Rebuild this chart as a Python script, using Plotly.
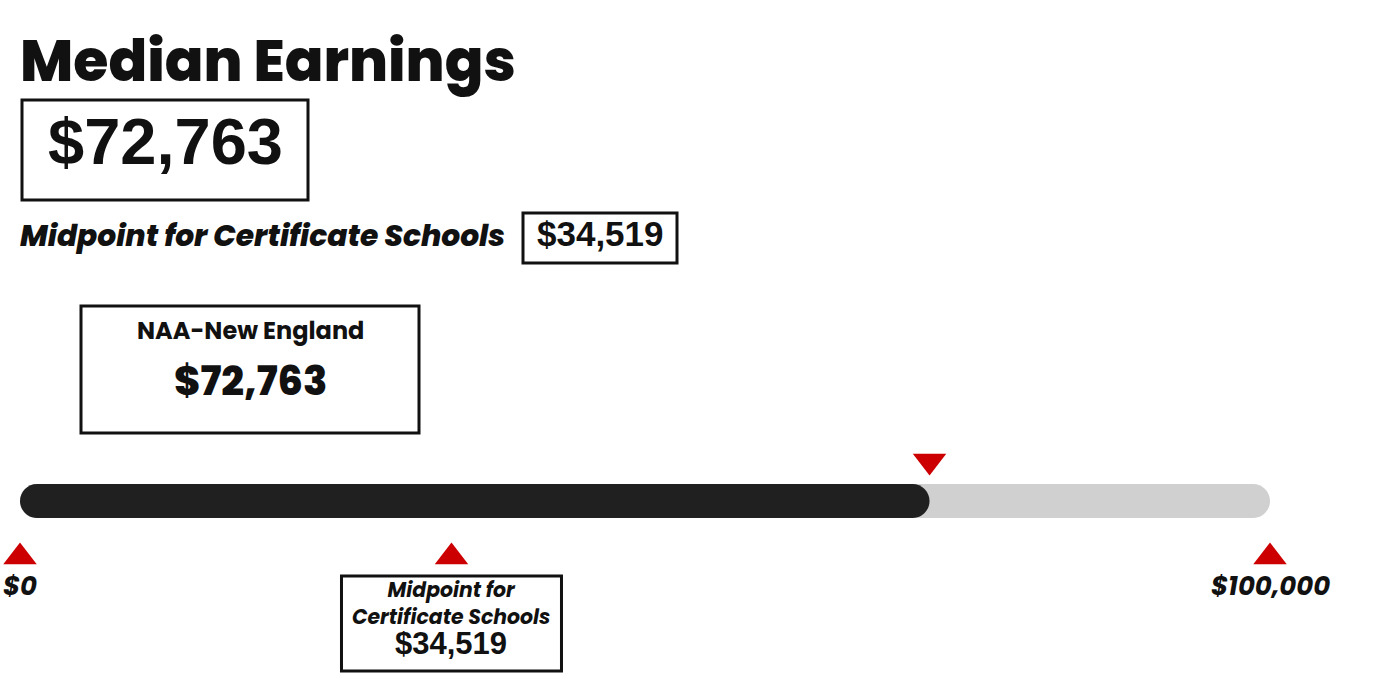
import plotly.graph_objects as go

# ---- data ----
school_name = "NAA-New England"
median_earnings = 72763
certificate_midpoint = 34519
scale_min = 0
scale_max = 100000
scale_labels = ["$0", "$100,000"]

W, H = 1400, 693
# pixel mapping: value 0 -> px 20, value 100000 -> px 1270
PX0, PX1 = 20, 1270
units_per_px = (scale_max - scale_min) / (PX1 - PX0)
x_lo = scale_min - PX0 * units_per_px
x_hi = x_lo + W * units_per_px

DARK = "#111111"
BAR_DARK = "#202020"
BAR_LIGHT = "#d0d0d0"
RED = "#cc0000"
FONT = "Poppins, Inter, sans-serif"
NUMFONT = "Liberation Sans, Arial, sans-serif"

def fmt(v):
    return "${:,.0f}".format(v)

def pill_path(x0, x1, yc, half_h):
    rx = half_h * units_per_px
    ry = half_h
    k = 0.5523
    a = x0 + rx
    b = x1 - rx
    t, btm = yc - ry, yc + ry
    p = f"M {a},{t} L {b},{t} "
    p += f"C {b + k*rx},{t} {x1},{yc - k*ry} {x1},{yc} "
    p += f"C {x1},{yc + k*ry} {b + k*rx},{btm} {b},{btm} "
    p += f"L {a},{btm} "
    p += f"C {a - k*rx},{btm} {x0},{yc + k*ry} {x0},{yc} "
    p += f"C {x0},{yc - k*ry} {a - k*rx},{t} {a},{t} Z"
    return p

BAR_Y, BAR_HALF = 501, 17

fig = go.Figure()

shapes = [
    dict(type="path", xref="x", yref="y", path=pill_path(scale_min, scale_max, BAR_Y, BAR_HALF),
         fillcolor=BAR_LIGHT, line=dict(width=0), layer="below"),
    dict(type="path", xref="x", yref="y", path=pill_path(scale_min, median_earnings, BAR_Y, BAR_HALF),
         fillcolor=BAR_DARK, line=dict(width=0), layer="below"),
]

def box(px0, py0, px1, py1):
    return dict(type="rect", xref="paper", yref="y", x0=px0 / W, x1=px1 / W, y0=py0, y1=py1,
                line=dict(color=DARK, width=3), fillcolor="rgba(0,0,0,0)")

# header boxes
shapes.append(box(22, 100, 308, 200))
shapes.append(box(523, 213, 677, 263))
# NAA box
shapes.append(box(81, 306, 419, 433))
# bottom midpoint box (centered on midpoint value)
cx = (certificate_midpoint - x_lo) / units_per_px
shapes.append(box(cx - 110, 576, cx + 110, 671))

# triangle markers
fig.add_trace(go.Scatter(
    x=[scale_min, certificate_midpoint, scale_max], y=[557, 557, 557],
    mode="markers", marker=dict(symbol="triangle-up", size=29, color=RED, line=dict(width=0)),
    hoverinfo="skip", showlegend=False))
fig.add_trace(go.Scatter(
    x=[median_earnings], y=[461],
    mode="markers", marker=dict(symbol="triangle-down", size=29, color=RED, line=dict(width=0)),
    hoverinfo="skip", showlegend=False))

def ptext(px, py, text, size, family=FONT, italic=False, weight=700, xanchor="left", xref="paper"):
    return dict(x=px / W if xref == "paper" else px, y=py, xref=xref, yref="y", text=text,
                showarrow=False, xanchor=xanchor, yanchor="middle",
                font=dict(family=family, size=size, color=DARK, weight=weight,
                          style="italic" if italic else "normal"))

annotations = [
    ptext(18, 61, "Median Earnings", 57, weight=800),
    ptext(165, 141, fmt(median_earnings), 65, family=NUMFONT, xanchor="center"),
    ptext(18, 235, "Midpoint for Certificate Schools", 29.7, italic=True, weight=800),
    ptext(600, 233, fmt(certificate_midpoint), 35, family=NUMFONT, xanchor="center"),
    ptext(250, 330, school_name, 24, xanchor="center", weight=700),
    ptext(250, 381, fmt(median_earnings), 40, xanchor="center", weight=800),
    ptext(scale_min, 586, "<i>" + scale_labels[0] + "</i>", 26, xanchor="center", xref="x", weight=700),
    ptext(scale_max, 586, "<i>" + scale_labels[1] + "</i>", 26, xanchor="center", xref="x", weight=700),
    ptext(certificate_midpoint, 603, "<i>Midpoint for<br>Certificate Schools</i>", 20.4,
          xanchor="center", xref="x", weight=700),
    ptext(certificate_midpoint, 643, fmt(certificate_midpoint), 31, family=NUMFONT,
          xanchor="center", xref="x"),
]

fig.update_layout(
    width=W, height=H,
    margin=dict(l=0, r=0, t=0, b=0),
    paper_bgcolor="white", plot_bgcolor="white",
    xaxis=dict(range=[x_lo, x_hi], visible=False, fixedrange=True),
    yaxis=dict(range=[H, 0], visible=False, fixedrange=True),
    shapes=shapes, annotations=annotations,
    showlegend=False,
)

fig.write_html("out.html", config={"displayModeBar": False})
